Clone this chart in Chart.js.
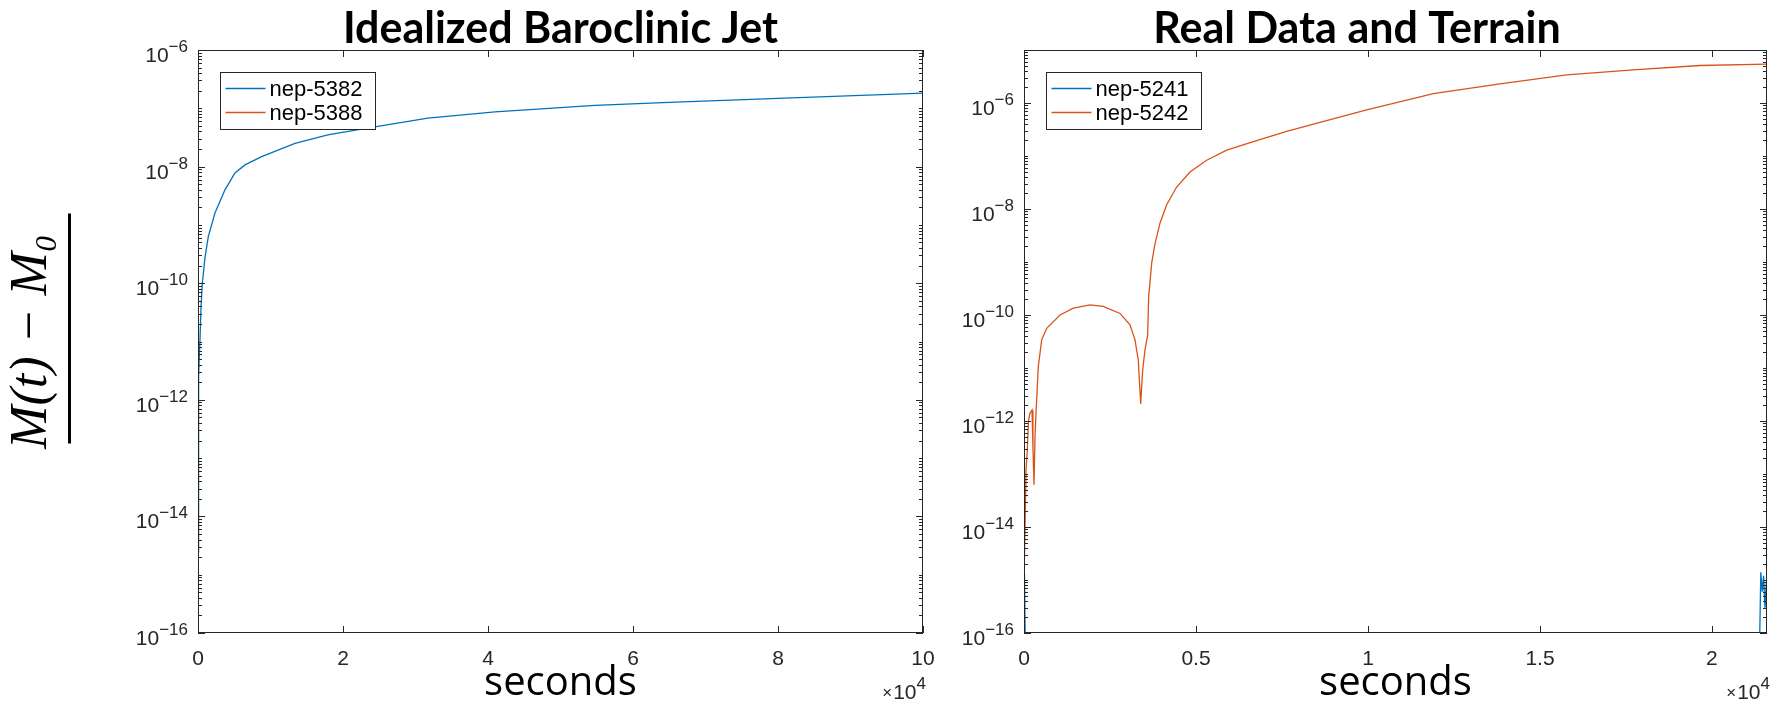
<!DOCTYPE html>
<html>
<head>
<meta charset="utf-8">
<script src="https://cdn.jsdelivr.net/npm/chart.js@4.4.1/dist/chart.umd.min.js"></script>
<style>
  html, body { margin: 0; padding: 0; background: #fff; }
  body { width: 1777px; height: 702px; position: relative; overflow: hidden; }
  .panel { position: absolute; top: 0; height: 702px; }
  #leftBox { left: 0; width: 960px; }
  #rightBox { left: 940px; width: 837px; }
</style>
</head>
<body>
<div class="panel" id="leftBox"><canvas id="jetChart" width="960" height="702"></canvas></div>
<div class="panel" id="rightBox"><canvas id="realChart" width="837" height="702"></canvas></div>
<script>
// --- Idealized Baroclinic Jet ---
var jetTime5382 = [0, 40, 80, 130, 200, 276, 420, 600, 970, 1420, 2340, 3720, 5100, 6480, 8780, 13380, 17900, 23960, 31700, 40970, 54760, 65000, 80000, 100000];
var jetMass5382 = [2.5e-15, 3.2e-14, 5e-13, 2.5e-12, 6.3e-12, 1.07e-11, 4e-11, 1e-10, 2.8e-10, 6.3e-10, 1.6e-9, 4e-9, 7.8e-9, 1.07e-8, 1.48e-8, 2.5e-8, 3.5e-8, 4.7e-8, 6.8e-8, 8.7e-8, 1.12e-7, 1.26e-7, 1.48e-7, 1.82e-7];
var jetTime5388 = [0, 15, 30, 45, 70, 50000, 99880, 99930, 99970, 100000];
var jetMass5388 = [1.2e-16, 3e-16, 1.4e-16, 2.2e-16, 4e-17, 4e-17, 4e-17, 2.4e-16, 1.6e-16, 2.2e-16];

// --- Real Data and Terrain ---
var realTime5241 = [0, 10, 20, 40, 21300, 21380, 21420, 21460, 21500, 21540, 21580, 21600];
var realMass5241 = [1.3e-15, 7e-16, 1.1e-15, 4e-17, 4e-17, 4e-17, 1.4e-15, 6e-16, 1.2e-15, 3e-16, 9e-16, 4e-17];
var realTime5242 = [0, 30, 60, 96, 130, 174, 233, 260, 290, 320, 349, 416, 514, 660, 1047, 1434, 1919, 2305, 2790, 3081, 3227, 3323, 3392, 3450, 3517, 3595, 3624, 3712, 3808, 3953, 4148, 4438, 4826, 5311, 5892, 6666, 7636, 8605, 9962, 11900, 13837, 15776, 17712, 19651, 21600];
var realMass5242 = [1e-15, 1e-14, 1.26e-13, 2.8e-13, 1e-12, 1.4e-12, 1.6e-12, 3.2e-13, 6.3e-14, 5e-13, 1.4e-12, 1.07e-11, 3.4e-11, 5.6e-11, 1e-10, 1.35e-10, 1.55e-10, 1.45e-10, 1.07e-10, 6.5e-11, 3.4e-11, 1.4e-11, 2.1e-12, 9.1e-12, 2.2e-11, 4.2e-11, 2.2e-10, 9.5e-10, 2.2e-9, 5.4e-9, 1.2e-8, 2.6e-8, 5e-8, 8.3e-8, 1.29e-7, 1.86e-7, 2.9e-7, 4.3e-7, 7.4e-7, 1.5e-6, 2.3e-6, 3.4e-6, 4.2e-6, 5.1e-6, 5.4e-6];

// ticks
var jetXTicks = [0, 20000, 40000, 60000, 80000, 100000];
var realXTicks = [0, 5000, 10000, 15000, 20000];
var yTickExps = [-16, -14, -12, -10, -8, -6];

var blue = '#0072BD';
var orange = '#D95319';
var axisColor = '#262626';
var tickFont = { family: 'Liberation Sans', size: 21 };

function pairs(xs, ys) {
  return xs.map(function (x, i) { return { x: x, y: ys[i] }; });
}

// "base" with a raised exponent, right edge at xr; baseline of base at yb
function drawPower(ctx, base, exp, xr, yb, pre) {
  ctx.textAlign = 'left';
  ctx.textBaseline = 'alphabetic';
  ctx.font = '17px "Liberation Sans"';
  var we = ctx.measureText(exp).width;
  ctx.font = '21px "Liberation Sans"';
  var wb = ctx.measureText(base).width;
  var wp = 0;
  if (pre) {
    ctx.font = '17px "Liberation Sans"';
    wp = ctx.measureText(pre).width + 1;
  }
  var x0 = xr - we - wb - wp;
  if (pre) {
    ctx.font = '17px "Liberation Sans"';
    ctx.fillText(pre, x0, yb - 1);
  }
  ctx.font = '21px "Liberation Sans"';
  ctx.fillText(base, x0 + wp, yb);
  ctx.font = '17px "Liberation Sans"';
  ctx.fillText(exp, x0 + wp + wb, yb - 10);
}

// MATLAB style box, inward ticks, y labels, legend and the x10^4 multiplier
var matlabAxes = {
  id: 'matlabAxes',
  afterDatasetsDraw: function (chart) {
    var ctx = chart.ctx, a = chart.chartArea, x = chart.scales.x, y = chart.scales.y;
    ctx.save();
    ctx.strokeStyle = axisColor;
    ctx.lineWidth = 1;
    ctx.beginPath();
    x.ticks.forEach(function (t) {
      var px = Math.round(x.getPixelForValue(t.value)) + 0.5;
      ctx.moveTo(px, a.bottom); ctx.lineTo(px, a.bottom - 7);
      ctx.moveTo(px, a.top); ctx.lineTo(px, a.top + 7);
    });
    var lo = Math.round(Math.log10(y.min)), hi = Math.round(Math.log10(y.max));
    for (var e = lo; e <= hi; e++) {
      for (var m = 1; m < 10; m++) {
        var v = m * Math.pow(10, e);
        if (v > y.max * 1.0001) break;
        var len = (m === 1 && yTickExps.indexOf(e) >= 0) ? 7 : 4;
        var py = Math.round(y.getPixelForValue(v)) + 0.5;
        ctx.moveTo(a.left, py); ctx.lineTo(a.left + len, py);
        ctx.moveTo(a.right, py); ctx.lineTo(a.right - len, py);
      }
    }
    ctx.stroke();
    ctx.strokeRect(Math.round(a.left) + 0.5, Math.round(a.top) + 0.5, Math.round(a.width) - 1, Math.round(a.height) - 1);

    // y tick labels 10^n
    ctx.fillStyle = axisColor;
    y.ticks.forEach(function (t) {
      var ex = Math.round(Math.log10(t.value));
      var py = y.getPixelForValue(t.value);
      drawPower(ctx, '10', String(ex).replace('-', '−'), a.left - 10, py + 12);
    });

    // exponent multiplier
    drawPower(ctx, '10', '4', a.right + 3, a.bottom + 66, '×');

    // legend
    var bx = Math.round(a.left) + 22.5, by = Math.round(a.top) + 22.5;
    ctx.fillStyle = '#fff';
    ctx.fillRect(bx, by, 155, 57);
    ctx.strokeStyle = axisColor;
    ctx.strokeRect(bx, by, 155, 57);
    ctx.font = '22px "Liberation Sans"';
    ctx.textBaseline = 'middle';
    ctx.textAlign = 'left';
    chart.data.datasets.forEach(function (ds, i) {
      var ly = by + 16 + i * 24;
      ctx.strokeStyle = ds.borderColor;
      ctx.lineWidth = 1.3;
      ctx.beginPath();
      ctx.moveTo(bx + 5, ly); ctx.lineTo(bx + 45, ly);
      ctx.stroke();
      ctx.fillStyle = '#000';
      ctx.fillText(ds.label, bx + 49, ly + 1);
    });

    // fraction bar of the y label
    if (chart.options.plugins.matlabAxes && chart.options.plugins.matlabAxes.fractionBar) {
      var cy = (a.top + a.bottom) / 2 - 13;
      ctx.fillStyle = '#000';
      ctx.fillRect(a.left - 130, cy - 115, 3, 230);
    }
    ctx.restore();
  }
};

function makeChart(id, cfg) {
  return new Chart(document.getElementById(id), {
    type: 'line',
    plugins: [matlabAxes],
    data: {
      datasets: [
        { label: cfg.names[0], data: pairs(cfg.t1, cfg.m1), borderColor: blue, borderWidth: 1.3, pointRadius: 0, order: 1 },
        { label: cfg.names[1], data: pairs(cfg.t2, cfg.m2), borderColor: orange, borderWidth: 1.3, pointRadius: 0, order: 0 }
      ]
    },
    options: {
      responsive: false,
      animation: false,
      events: [],
      layout: { padding: cfg.padding },
      plugins: {
        legend: { display: false },
        tooltip: { enabled: false },
        matlabAxes: { fractionBar: cfg.fractionBar },
        title: {
          display: true,
          text: cfg.title,
          fullSize: cfg.titleFull,
          color: '#000',
          font: { family: 'Lato', weight: 'bold', size: 43, lineHeight: 0.9 },
          padding: { top: 10, bottom: 1.3 }
        }
      },
      scales: {
        x: {
          type: 'linear',
          min: 0,
          max: cfg.xMax,
          grid: { display: false },
          border: { display: false },
          afterBuildTicks: function (s) { s.ticks = cfg.xTicks.map(function (v) { return { value: v }; }); },
          ticks: {
            callback: function (v) { return String(v / 1e4); },
            color: axisColor,
            font: tickFont,
            padding: 6,
            maxRotation: 0,
            autoSkip: false
          },
          title: {
            display: true,
            text: 'seconds',
            color: '#000',
            font: { family: 'Open Sans', size: 40, lineHeight: 0.6 },
            padding: { top: 0, bottom: 6.5 }
          },
          afterFit: function (s) { s.height = 69; }
        },
        y: {
          type: 'logarithmic',
          min: 1e-16,
          max: cfg.yMax,
          grid: { display: false },
          border: { display: false },
          afterBuildTicks: function (s) { s.ticks = yTickExps.map(function (e) { return { value: Number('1e' + e) }; }); },
          ticks: { display: false },
          title: {
            display: cfg.fractionBar,
            text: 'M(t) − M₀',
            color: '#000',
            font: { family: 'Liberation Serif', style: 'italic', size: 52, lineHeight: 1 },
            padding: { top: 6.5, bottom: 0 }
          },
          afterFit: function (s) { s.width = cfg.yWidth; }
        }
      }
    }
  });
}

makeChart('jetChart', {
  names: ['nep-5382', 'nep-5388'],
  t1: jetTime5382, m1: jetMass5382,
  t2: jetTime5388, m2: jetMass5388,
  title: 'Idealized Baroclinic Jet',
  titleFull: false,
  padding: { left: 0, right: 37, top: 0, bottom: 0 },
  xMax: 100000, xTicks: jetXTicks,
  yMax: 1e-6, yWidth: 198,
  fractionBar: true
});

makeChart('realChart', {
  names: ['nep-5241', 'nep-5242'],
  t1: realTime5241, m1: realMass5241,
  t2: realTime5242, m2: realMass5242,
  title: 'Real Data and Terrain',
  titleFull: true,
  padding: { left: 7, right: 10, top: 0, bottom: 0 },
  xMax: 21600, xTicks: realXTicks,
  yMax: 1e-5, yWidth: 77,
  fractionBar: false
});
</script>
</body>
</html>
